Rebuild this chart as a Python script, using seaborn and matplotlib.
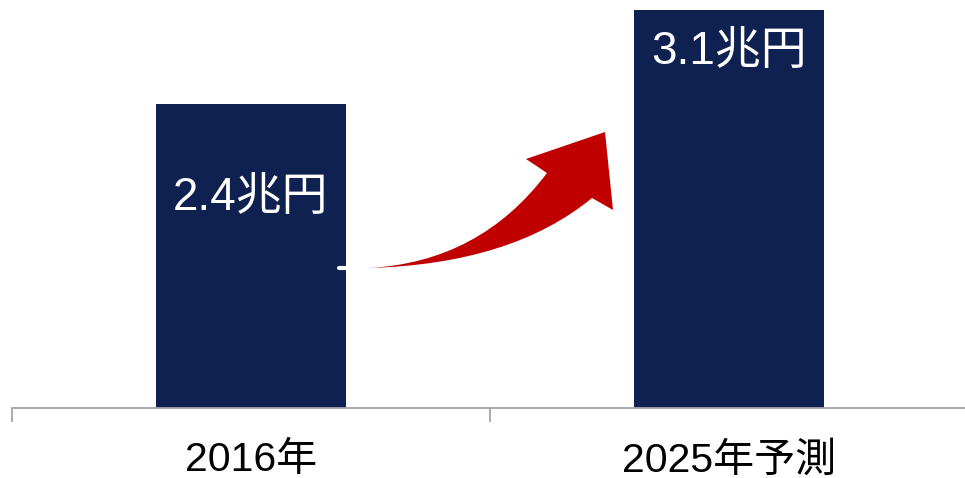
import matplotlib
matplotlib.use("Agg")
import matplotlib.pyplot as plt
import seaborn as sns
import pandas as pd
from matplotlib.path import Path
from matplotlib.patches import PathPatch
from matplotlib.transforms import Affine2D
from matplotlib.ticker import FixedLocator

categories = ["2016年", "2025年予測"]
values = [2.39, 3.13]
value_labels = ["2.4兆円", "3.1兆円"]

BAR = "#0f2151"
RED = "#c00000"
AXC = "#a3a3ad"
FAM = ["Liberation Sans", "Noto Sans CJK JP", "DejaVu Sans"]

sns.set_theme(style="white")
plt.rcParams["font.family"] = FAM

W, H = 965, 478
fig = plt.figure(figsize=(W / 100, H / 100), dpi=100)
ax = fig.add_axes([12 / W, (H - 408) / H, 956 / W, 398 / H])

df = pd.DataFrame({"cat": categories, "val": values})
sns.barplot(data=df, x="cat", y="val", color=BAR, saturation=1, width=0.397,
            linewidth=0, ax=ax)

ax.set_xlim(-0.5, 1.5)
ax.set_ylim(0, 3.13)
ax.set_xlabel("")
ax.set_ylabel("")
ax.set_yticks([])
for s in ["left", "right", "top"]:
    ax.spines[s].set_visible(False)
ax.spines["bottom"].set_color(AXC)
ax.spines["bottom"].set_linewidth(1.3)

# ticks at category boundaries, labels at centers
ax.xaxis.set_major_locator(FixedLocator([-0.5, 0.5, 1.5]))
ax.set_xticklabels(["", "", ""])
ax.xaxis.set_minor_locator(FixedLocator([0, 1]))
ax.set_xticklabels(categories, minor=True)
ax.tick_params(axis="x", which="major", direction="out", length=10, width=1.3,
               color=AXC, bottom=True)
ax.tick_params(axis="x", which="minor", length=0, pad=24, labelsize=29.5,
               labelcolor="black", bottom=True)

# value labels inside bars
offsets_px = [-94, -42]
for i, (v, lab) in enumerate(zip(values, value_labels)):
    ax.annotate(lab, xy=(i, v), xytext=(0, offsets_px[i] * 0.72),
                textcoords="offset points", ha="center", va="center",
                color="white", fontsize=33, family=FAM)

# curved red arrow (drawn in pixel coords, top-left origin)
pix = Affine2D().scale(1, -1).translate(0, H)
verts = [
    (369, 268),              # tail
    (512, 264), (592, 198),  # lower edge (quadratic)
    (613, 210),              # right barb
    (605, 132),              # tip
    (526, 159),              # left barb
    (547, 173),              # notch
    (480, 262), (369, 268),  # upper edge (quadratic)
    (369, 268),
]
codes = [Path.MOVETO, Path.CURVE3, Path.CURVE3, Path.LINETO, Path.LINETO,
         Path.LINETO, Path.LINETO, Path.CURVE3, Path.CURVE3, Path.CLOSEPOLY]
arrow = PathPatch(Path(verts, codes), facecolor=RED, edgecolor="none",
                  transform=pix, zorder=5)
fig.patches.append(arrow)

# small white connector stub at bar edge
fig.add_artist(plt.Line2D([339, 346], [H - 268, H - 268], color="white", lw=3,
                          solid_capstyle="round", transform=None, zorder=6))

fig.savefig("out.png", dpi=100)
